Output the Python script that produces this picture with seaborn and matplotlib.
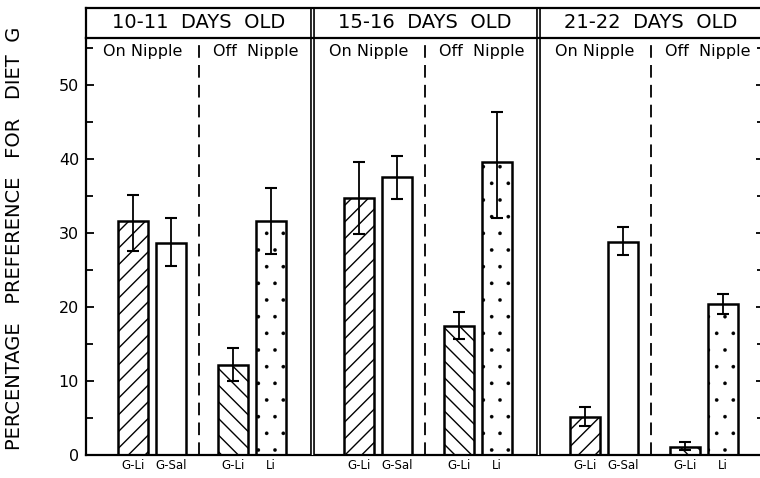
import numpy as np
import pandas as pd
import matplotlib
matplotlib.use("Agg")
import matplotlib.pyplot as plt
import seaborn as sns

# ---- data -------------------------------------------------------------
ages = ["10-11  DAYS  OLD", "15-16  DAYS  OLD", "21-22  DAYS  OLD"]
conditions = ["On Nipple", "Off  Nipple"]
diets = ["G-Li", "G-Sal", "G-Li", "Li"]          # per age group
hatches = ["//", "", "\\\\", "."]                 # per diet slot
means = [31.6, 28.6, 12.2, 31.6,
         34.7, 37.5, 17.4, 39.6,
         5.2, 28.8, 1.1, 20.4]
err_upper = [35.2, 32.0, 14.4, 36.1,
             39.6, 40.4, 19.3, 46.3,
             6.5, 30.8, 1.7, 21.8]
err_lower = [27.6, 25.6, 10.0, 27.2,
             29.9, 34.6, 15.7, 32.0,
             3.9, 27.0, 0.7, 19.0]

# ---- layout -----------------------------------------------------------
panel_w = 6.0
slot_offsets = [1.25, 2.25, 3.9, 4.9]
positions = [g * panel_w + s for g in range(len(ages)) for s in slot_offsets]

df = pd.DataFrame({
    "pos": positions,
    "value": means,
    "diet": diets * len(ages),
    "hatch": hatches * len(ages),
    "upper": err_upper,
    "lower": err_lower,
})

sns.set_style("white")
plt.rcParams["font.family"] = ["DejaVu Sans"]
plt.rcParams["hatch.linewidth"] = 1.0
for key in ["text.color", "axes.labelcolor", "xtick.color", "ytick.color",
            "axes.edgecolor"]:
    plt.rcParams[key] = "black"

W, H = 760, 478
fig = plt.figure(figsize=(W / 100, H / 100), dpi=100)

px_per_unit = 37.67
ax_left = 86 / W
ax_w = (panel_w * len(ages) * px_per_unit) / W
ax_bottom = (H - 455) / H
ax_top_px = 38
ax_h = (455 - ax_top_px) / H
ax = fig.add_axes([ax_left, ax_bottom, ax_w, ax_h])

ymax = (455 - ax_top_px) / 7.4

sns.barplot(data=df, x="pos", y="value", native_scale=True, width=0.8,
            color="white", edgecolor="black", linewidth=1.8,
            errorbar=None, ax=ax)

for patch, h in zip(ax.patches, df["hatch"]):
    patch.set_facecolor("white")
    patch.set_hatch(h)
    if h == ".":
        patch.set_hatch_linewidth(0.2)

yerr = np.vstack([df["value"] - df["lower"], df["upper"] - df["value"]])
ax.errorbar(df["pos"], df["value"], yerr=yerr, fmt="none", ecolor="black",
            elinewidth=1.3, capsize=4.5, capthick=1.5, zorder=5)

ax.set_xlim(0, panel_w * len(ages))
ax.set_ylim(0, ymax)
ax.set_xlabel("")
ax.set_ylabel("")

ax.set_yticks([0, 10, 20, 30, 40, 50])
ax.set_yticks([5, 15, 25, 35, 45, 55], minor=True)
ax.tick_params(axis="y", which="both", direction="in", left=True, right=True,
               width=1.3, labelsize=11.5, pad=5)
ax.tick_params(axis="y", which="major", length=6)
ax.tick_params(axis="y", which="minor", length=5)
ax.set_xticks(df["pos"])
ax.set_xticklabels(df["diet"], fontsize=8.5)
ax.tick_params(axis="x", length=0, pad=3)

for side in ["left", "bottom"]:
    ax.spines[side].set_linewidth(1.6)
ax.spines["top"].set_visible(False)
ax.spines["right"].set_linewidth(1.6)

# panel separators (double rule) and dashed condition dividers
for g in range(len(ages)):
    x0 = g * panel_w
    if g > 0:
        ax.axvline(x0, color="black", lw=3.4, zorder=6)
        ax.axvline(x0, color="white", lw=1.0, zorder=7)
    ax.axvline(x0 + panel_w / 2, color="black", lw=1.3,
               linestyle=(0, (7, 4)), zorder=1)
    ax.text(x0 + 1.5, 54.5, conditions[0], ha="center", va="center",
            fontsize=11.5)
    ax.text(x0 + 4.5, 54.5, conditions[1], ha="center", va="center",
            fontsize=11.5)

# header row with the age groups
hax = fig.add_axes([ax_left, (H - ax_top_px) / H, ax_w, 30 / H])
hax.set_xlim(0, panel_w * len(ages))
hax.set_ylim(0, 1)
hax.set_xticks([])
hax.set_yticks([])
for side in ["left", "top", "bottom"]:
    hax.spines[side].set_linewidth(1.6)
hax.spines["right"].set_visible(False)
for g, label in enumerate(ages):
    x0 = g * panel_w
    if g > 0:
        hax.axvline(x0, color="black", lw=3.4)
        hax.axvline(x0, color="white", lw=1.0)
    hax.text(x0 + panel_w / 2, 0.5, label, ha="center", va="center",
             fontsize=14)

fig.text(15 / W, 1 - 238 / H, "PERCENTAGE   PREFERENCE   FOR   DIET  G",
         rotation=90, ha="center", va="center", fontsize=14)

fig.savefig("out.png", dpi=100, facecolor="white")
